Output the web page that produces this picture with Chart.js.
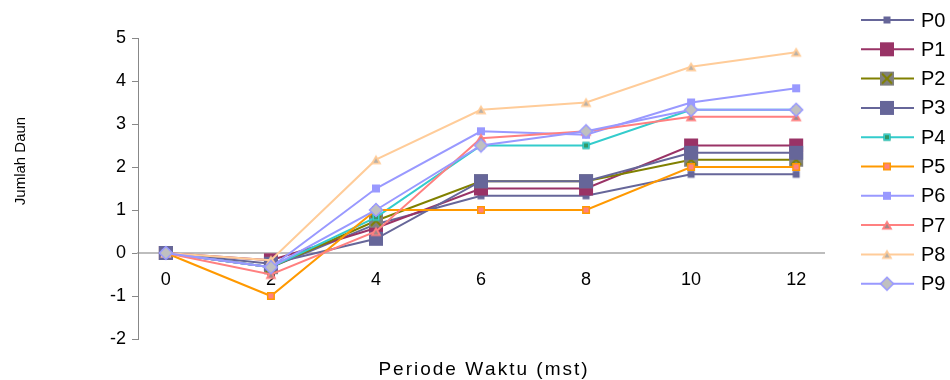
<!DOCTYPE html>
<html>
<head>
<meta charset="utf-8">
<script src="https://cdn.jsdelivr.net/npm/chart.js@4/dist/chart.umd.min.js"></script>
<style>
  html, body { margin: 0; padding: 0; background: #fff; }
  #wrap { width: 950px; height: 380px; }
</style>
</head>
<body>
<div id="wrap"><canvas id="grafik"></canvas></div>
<script>
// data
const waktu = [0, 2, 4, 6, 8, 10, 12]
const namaSeri = ['P0', 'P1', 'P2', 'P3', 'P4', 'P5', 'P6', 'P7', 'P8', 'P9']
const P0 = [0, -0.33, 0.67, 1.33, 1.33, 1.83, 1.83]
const P1 = [0, -0.17, 0.58, 1.5, 1.5, 2.5, 2.5]
const P2 = [0, -0.33, 0.75, 1.67, 1.67, 2.17, 2.17]
const P3 = [0, -0.25, 0.33, 1.67, 1.67, 2.33, 2.33]
const P4 = [0, -0.33, 0.83, 2.5, 2.5, 3.33, 3.33]
const P5 = [0, -1, 1, 1, 1, 2, 2]
const P6 = [0, -0.33, 1.5, 2.83, 2.75, 3.5, 3.83]
const P7 = [0, -0.5, 0.5, 2.67, 2.83, 3.17, 3.17]
const P8 = [0, -0.17, 2.17, 3.33, 3.5, 4.33, 4.67]
const P9 = [0, -0.33, 1, 2.5, 2.83, 3.33, 3.33]
const nilai = [P0, P1, P2, P3, P4, P5, P6, P7, P8, P9]
const yTicks = [-2, -1, 0, 1, 2, 3, 4, 5]

const judulX = 'Periode Waktu (mst)'
const judulY = 'Jumlah Daun'

const warnaGaris = ['#666699', '#993366', '#808000', '#666699', '#33CCCC',
                    '#FF9900', '#9999FF', '#FF8080', '#FFCC99', '#9999FF']

const FONT = '"Liberation Sans", Arial, sans-serif'

// bikin marker sendiri (kanvas kecil)
function marker(jenis) {
  const c = document.createElement('canvas')
  c.width = 16; c.height = 16
  const g = c.getContext('2d')
  const kotak = (s, isi, tepi) => {
    const o = (16 - s) / 2
    g.fillStyle = isi
    g.fillRect(o, o, s, s)
    if (tepi) { g.strokeStyle = tepi; g.lineWidth = 1.5; g.strokeRect(o + 0.75, o + 0.75, s - 1.5, s - 1.5) }
  }
  const segitiga = (isi, tengah) => {
    g.beginPath(); g.moveTo(8, 3); g.lineTo(13.5, 12.5); g.lineTo(2.5, 12.5); g.closePath()
    g.fillStyle = isi; g.fill()
    g.beginPath(); g.moveTo(8, 6.5); g.lineTo(10.5, 11); g.lineTo(5.5, 11); g.closePath()
    g.fillStyle = tengah; g.fill()
  }
  switch (jenis) {
    case 0: kotak(7, '#666699'); break
    case 1: kotak(14, '#993366'); break
    case 2:
      kotak(14, '#808080')
      g.strokeStyle = '#808000'; g.lineWidth = 2
      g.beginPath(); g.moveTo(3, 3); g.lineTo(13, 13); g.moveTo(13, 3); g.lineTo(3, 13); g.stroke()
      break
    case 3: kotak(14, '#666699'); break
    case 4: kotak(7, '#339966', '#33CCCC'); break
    case 5: kotak(8, '#FF8080', '#FF9900'); break
    case 6: kotak(8, '#9999FF'); break
    case 7: segitiga('#FF8080', '#a08888'); break
    case 8: segitiga('#FFCC99', '#b8b0a8'); break
    case 9:
      g.beginPath(); g.moveTo(8, 1.5); g.lineTo(14.5, 8); g.lineTo(8, 14.5); g.lineTo(1.5, 8); g.closePath()
      g.fillStyle = '#C0C0C0'; g.fill()
      g.strokeStyle = '#9999FF'; g.lineWidth = 1.5; g.stroke()
      break
  }
  return c
}
const markers = namaSeri.map((n, i) => marker(i))

const datasets = namaSeri.map((nama, i) => ({
  label: nama,
  data: waktu.map((t, k) => ({ x: t, y: nilai[i][k] })),
  borderColor: warnaGaris[i],
  borderWidth: 2,
  pointStyle: markers[i],
  pointRadius: 8,
  pointHoverRadius: 8,
  tension: 0,
  order: 9 - i
}))

// teks dengan jarak huruf, ditulis per karakter
function teksRenggang(c, s, cx, y, jarak) {
  const lebar = [...s].map(ch => c.measureText(ch).width)
  const total = lebar.reduce((a, b) => a + b, 0) + jarak * (s.length - 1)
  let x = cx - total / 2
  c.textAlign = 'left'
  ;[...s].forEach((ch, i) => { c.fillText(ch, x, y); x += lebar[i] + jarak })
}

// legenda di kanan + judul sumbu
const hiasan = {
  id: 'hiasan',
  afterDraw(chart) {
    const c = chart.ctx
    const area = chart.chartArea
    c.save()
    c.fillStyle = '#000'
    c.textBaseline = 'middle'

    c.font = '20px ' + FONT
    namaSeri.forEach((n, i) => {
      const y = 20 + i * 29.3
      c.strokeStyle = warnaGaris[i]
      c.lineWidth = 2
      c.beginPath(); c.moveTo(861, y); c.lineTo(914, y); c.stroke()
      c.drawImage(markers[i], 887 - 8, y - 8)
      c.fillText(n, 921, y + 1)
    })

    // judul sumbu x
    c.font = '19px ' + FONT
    teksRenggang(c, judulX, (area.left + area.right) / 2 + 2, 370, 2)

    // judul sumbu y
    c.font = '15px ' + FONT
    c.textAlign = 'center'
    c.translate(21, 161)
    c.rotate(-Math.PI / 2)
    c.fillText(judulY, 0, 0)
    c.restore()
  }
}

Chart.defaults.font.family = FONT
Chart.defaults.color = '#000'

new Chart(document.getElementById('grafik'), {
  type: 'line',
  data: { datasets },
  options: {
    responsive: true,
    maintainAspectRatio: false,
    animation: false,
    layout: { padding: { top: 38, right: 126, bottom: 41, left: 0 } },
    plugins: {
      legend: { display: false },
      tooltip: { enabled: false }
    },
    scales: {
      x: {
        type: 'linear',
        min: -0.53,
        max: 12.53,
        position: { y: 0 },
        afterBuildTicks: axis => { axis.ticks = waktu.map(v => ({ value: v })) },
        grid: { display: false },
        border: { display: true, color: '#BDBDBD', width: 2 },
        ticks: { font: { size: 18 }, padding: 8, color: '#000' }
      },
      y: {
        min: -2,
        max: 5,
        afterBuildTicks: axis => { axis.ticks = yTicks.map(v => ({ value: v })) },
        afterFit: axis => { axis.width = 138 },
        grid: { drawOnChartArea: false, tickLength: 6, color: '#888', tickColor: '#888' },
        border: { color: '#888', width: 1 },
        ticks: { font: { size: 18 }, padding: 6, color: '#000' }
      }
    }
  },
  plugins: [hiasan]
})
</script>
</body>
</html>
